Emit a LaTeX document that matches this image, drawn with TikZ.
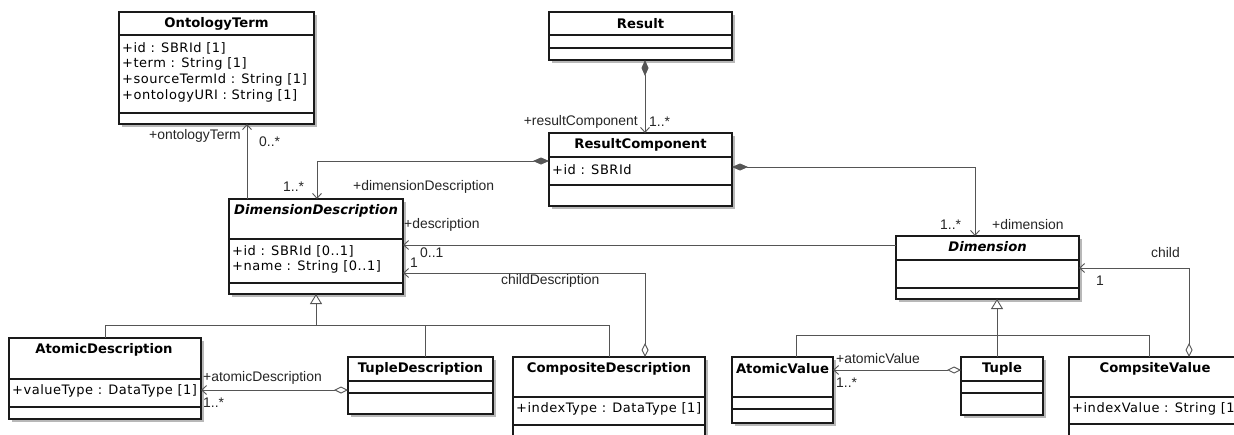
\documentclass[tikz,border=0pt]{standalone}
\usepackage{fontspec}
\setmainfont{DejaVu Sans}
\newfontfamily\attrfont[LetterSpace=4]{DejaVu Sans}
\newfontfamily\lblfont{Liberation Sans}
\usetikzlibrary{arrows.meta}
\definecolor{linec}{HTML}{555555}
\definecolor{boxc}{HTML}{1A1A1A}
\definecolor{shadc}{HTML}{B8B8B8}
\tikzset{
  boxshape/.style={draw=boxc, line width=1.3pt, fill=white, rectangle, inner sep=0pt, outer sep=0pt, anchor=north west},
  shadowbox/.style={fill=shadc},
  sepline/.style={draw=boxc, line width=1.1pt},
  ctitle/.style={font=\fontsize{13.2}{15}\selectfont\bfseries, inner sep=0pt},
  ititle/.style={font=\fontsize{13.2}{15}\selectfont\bfseries\itshape, inner sep=0pt},
  attr/.style={font=\attrfont\fontsize{13}{15}\selectfont, inner sep=0pt, anchor=west},
  lbl/.style={font=\lblfont\fontsize{13.9}{16}\selectfont, inner sep=0pt, anchor=west, text=black!85},
  lble/.style={lbl, anchor=east},
  assoc/.style={draw=linec, line width=0.9pt},
  nav/.style={-{Straight Barb[length=5pt,width=9pt]}},
  compo/.style={{Diamond[length=16pt,width=7pt,fill=linec]}-{Straight Barb[length=5pt,width=9pt]}},
  aggr/.style={{Diamond[open,length=14pt,width=7pt,fill=white]}-{Straight Barb[length=5pt,width=9pt]}},
  gen/.style={-{Triangle[open,length=10pt,width=12pt,fill=white]}}
}
\newcommand\umlbox[5]{%
  \fill[shadowbox] (#2+3,#3+3) rectangle (#4+3,#5+3);
  \node[boxshape, minimum width={#4-#2}, minimum height={#5-#3}] (#1) at (#2,#3) {};
}
\newcommand\umlsep[2]{\draw[sepline] (#1.west |- 0,#2) -- (#1.east |- 0,#2);}
\begin{document}
\begin{tikzpicture}[x=1pt,y=-1pt]
\fill[white] (0,0) rectangle (1234,434);
\useasboundingbox (0,0) rectangle (1234,434);
\clip (0,0) rectangle (1234,434);

% ---------- boxes ----------
\umlbox{ot}{119}{12}{314}{124}
\umlsep{ot}{35}\umlsep{ot}{113}
\node[ctitle] (ot-n) at (216.5,24) {OntologyTerm};
\node[attr] (ot-a1) at (122,48) {+id : SBRId [1]};
\node[attr] (ot-a2) at (122,64) {+term : String [1]};
\node[attr] (ot-a3) at (122,80) {+sourceTermId : String [1]};
\node[attr] (ot-a4) at (122,96) {+ontologyURI : String [1]};

\umlbox{r}{549}{12}{732}{60}
\umlsep{r}{35}\umlsep{r}{48}
\node[ctitle] (r-n) at (640.5,24) {Result};

\umlbox{rc}{549}{133}{732}{206}
\umlsep{rc}{157}\umlsep{rc}{185}
\node[ctitle] (rc-n) at (640.5,145) {ResultComponent};
\node[attr] (rc-a1) at (552,170) {+id : SBRId};

\umlbox{dd}{229}{199}{403}{294}
\umlsep{dd}{239}\umlsep{dd}{283}
\node[ititle] (dd-n) at (316,211) {DimensionDescription};
\node[attr] (dd-a1) at (232,251) {+id : SBRId [0..1]};
\node[attr] (dd-a2) at (232,267) {+name : String [0..1]};

\umlbox{dim}{896}{236}{1079}{299}
\umlsep{dim}{260}\umlsep{dim}{288}
\node[ititle] (dim-n) at (987.5,247) {Dimension};

\umlbox{ad}{9}{338}{201}{419}
\umlsep{ad}{379}\umlsep{ad}{407}
\node[ctitle] (ad-n) at (104,350) {AtomicDescription};
\node[attr] (ad-a1) at (12,391) {+valueType : DataType [1]};

\umlbox{td}{348}{357}{493}{414}
\umlsep{td}{381}\umlsep{td}{393}
\node[ctitle] (td-n) at (420.5,369) {TupleDescription};

\umlbox{cd}{513}{357}{705}{460}
\umlsep{cd}{397}\umlsep{cd}{425}
\node[ctitle] (cd-n) at (609,369) {CompositeDescription};
\node[attr] (cd-a1) at (516,409) {+indexType : DataType [1]};

\umlbox{av}{732}{357}{833}{423}
\umlsep{av}{397}\umlsep{av}{409}
\node[ctitle] (av-n) at (782.5,369) {AtomicValue};

\umlbox{tu}{961}{357}{1043}{415}
\umlsep{tu}{381}\umlsep{tu}{393}
\node[ctitle] (tu-n) at (1002,369) {Tuple};

\umlbox{cv}{1069}{357}{1245}{460}
\umlsep{cv}{397}\umlsep{cv}{424}
\node[ctitle] (cv-n) at (1155,369) {CompsiteValue};
\node[attr] (cv-a1) at (1072,409) {+indexValue : String [1]};

% ---------- connectors ----------
\draw[assoc,nav] (247,0 |- dd.north) -- (247,0 |- ot.south);
\node[lble] (l-ot1) at (241,136) {+ontologyTerm};
\node[lbl] (l-ot2) at (259,142) {0..*};

\draw[assoc,compo] (645,0 |- r.south) -- (645,0 |- rc.north);
\node[lble] (l-rc1) at (638,122) {+resultComponent};
\node[lbl] (l-rc2) at (649,122) {1..*};

\draw[assoc,compo] (rc.west |- 0,161) -| (317,0 |- dd.north);
\node[lbl] (l-dd1) at (283,187) {1..*};
\node[lbl] (l-dd2) at (353,187) {+dimensionDescription};

\draw[assoc,compo] (rc.east |- 0,167) -| (975,0 |- dim.north);
\node[lbl] (l-dm1) at (940,225) {1..*};
\node[lbl] (l-dm2) at (992,225) {+dimension};

\draw[assoc,nav] (dim.west |- 0,245) -- (dd.east |- 0,245);
\node[lbl] (l-de1) at (404,225) {+description};
\node[lbl] (l-de2) at (420,253) {0..1};

\draw[assoc,aggr] (645,0 |- cd.north) |- (dd.east |- 0,273);
\node[lbl] (l-cd1) at (410,263) {1};
\node[lbl] (l-cd2) at (501,281) {childDescription};

\draw[assoc,aggr] (1189,0 |- cv.north) |- (dim.east |- 0,268);
\node[lbl] (l-ch1) at (1151,253) {child};
\node[lbl] (l-ch2) at (1096,281) {1};

\draw[assoc,aggr] (td.west |- 0,390) -- (ad.east |- 0,390);
\node[lbl] (l-ad1) at (203,378) {+atomicDescription};
\node[lbl] (l-ad2) at (203,403) {1..*};

\draw[assoc,aggr] (tu.west |- 0,370) -- (av.east |- 0,370);
\node[lbl] (l-av1) at (836,359) {+atomicValue};
\node[lbl] (l-av2) at (836,383) {1..*};

% generalizations
\coordinate (ddj) at (316,325);
\draw[assoc,gen] (ddj) -- (ddj |- dd.south);
\draw[assoc] (105,0 |- ad.north) |- (609,325) -- (609,0 |- cd.north);
\draw[assoc] (425,325) -- (425,0 |- td.north);

\coordinate (dmj) at (997,335);
\draw[assoc,gen] (dmj) -- (dmj |- dim.south);
\draw[assoc] (796,0 |- av.north) |- (1149,335) -- (1149,0 |- cv.north);
\draw[assoc] (dmj) -- (997,0 |- tu.north);
\end{tikzpicture}
\end{document}
